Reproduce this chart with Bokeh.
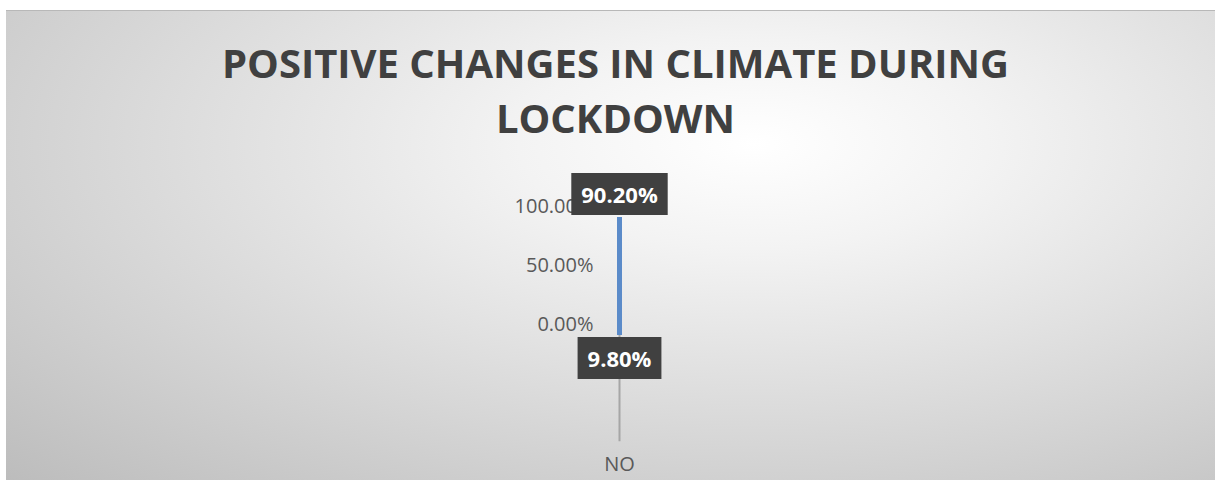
from bokeh.plotting import figure
from bokeh.models import Range1d, FactorRange, FixedTicker, PrintfTickFormatter, Label
from bokeh.embed import file_html
from bokeh.resources import INLINE

# ---- data ----
categories = ["NO"]
title_lines = ["POSITIVE CHANGES IN CLIMATE DURING", "LOCKDOWN"]
point_values = [90.2, -9.8]          # plotted positions (percent)
point_labels = ["90.20%", "9.80%"]   # data label texts
axis_min, axis_max = -100, 100
tick_values = [0, 50, 100]

W, H = 1215, 480
p = figure(width=W, height=H, x_range=FactorRange(*categories, range_padding=0),
           y_range=Range1d(axis_min, axis_max), output_backend="svg",
           toolbar_location=None, min_border_left=598, min_border_right=575,
           min_border_top=205, min_border_bottom=39)
p.styles = {"background":
            "linear-gradient(#ffffff,#ffffff) 0 0/100% 10px no-repeat, "
            "linear-gradient(#ffffff,#ffffff) 0 0/6px 100% no-repeat, "
            "linear-gradient(#b8b8b8,#b8b8b8) 0 10px/100% 1px no-repeat, "
            "radial-gradient(ellipse farthest-corner at 62% 30%, #ffffff 0%, #f3f3f3 22%, #bcbcbc 100%)"}
p.background_fill_color = None
p.border_fill_color = None
p.outline_line_color = None
p.xgrid.visible = False
p.ygrid.visible = False

ya = p.yaxis[0]
ya.ticker = FixedTicker(ticks=tick_values)
ya.formatter = PrintfTickFormatter(format="%.2f%%")
ya.axis_line_color = None
ya.major_tick_line_color = None
ya.minor_tick_line_color = None
ya.major_tick_out = 0
ya.major_tick_in = 0
ya.minor_tick_out = 0
ya.major_label_text_font = "Open Sans"
ya.major_label_text_font_size = "20px"
ya.major_label_text_color = "#595959"
ya.major_label_standoff = 5

xa = p.xaxis[0]
xa.axis_line_color = None
xa.major_tick_line_color = None
xa.major_tick_out = 0
xa.major_tick_in = 0
xa.major_label_text_font = "Open Sans"
xa.major_label_text_font_size = "20px"
xa.major_label_text_color = "#595959"
xa.major_label_standoff = 8

# drop line from lowest point to category axis
p.segment(x0=categories, y0=[min(point_values)], x1=categories, y1=[axis_min],
          line_color="#a6a6a6", line_width=2)
# high-low line between the two values
p.line(x=[categories[0]] * len(point_values), y=point_values,
       line_color="#5b8bc9", line_width=5)

# data labels with shadow (placed in the left side panel so they are not clipped)
offsets = [23, -23]
for v, t, off in zip(point_values, point_labels, offsets):
    shadow = Label(x=0.5, y=v, text=t, x_offset=3, y_offset=off - 3,
                   text_align="center", text_baseline="middle",
                   text_font="Open Sans", text_font_style="bold", text_font_size="22px",
                   text_color="#000000", text_alpha=0.0,
                   background_fill_color="#000000", background_fill_alpha=0.28,
                   padding=(10, 6))
    box = Label(x=0.5, y=v, text=t, y_offset=off,
                text_align="center", text_baseline="middle",
                text_font="Open Sans", text_font_style="bold", text_font_size="22px",
                text_color="#ffffff",
                background_fill_color="#404040", background_fill_alpha=1.0,
                padding=(10, 6))
    p.add_layout(shadow, "left")
    p.add_layout(box, "left")

# title, anchored at the top of the value axis
for line, dy in zip(title_lines, [143, 88]):
    p.add_layout(Label(x=0.5, y=axis_max, x_offset=-4, y_offset=dy, text=line,
                       text_align="center", text_baseline="middle",
                       text_font="Open Sans", text_font_style="bold",
                       text_font_size="40px", text_color="#404040"), "above")

open("out.html", "w").write(file_html(p, INLINE))
